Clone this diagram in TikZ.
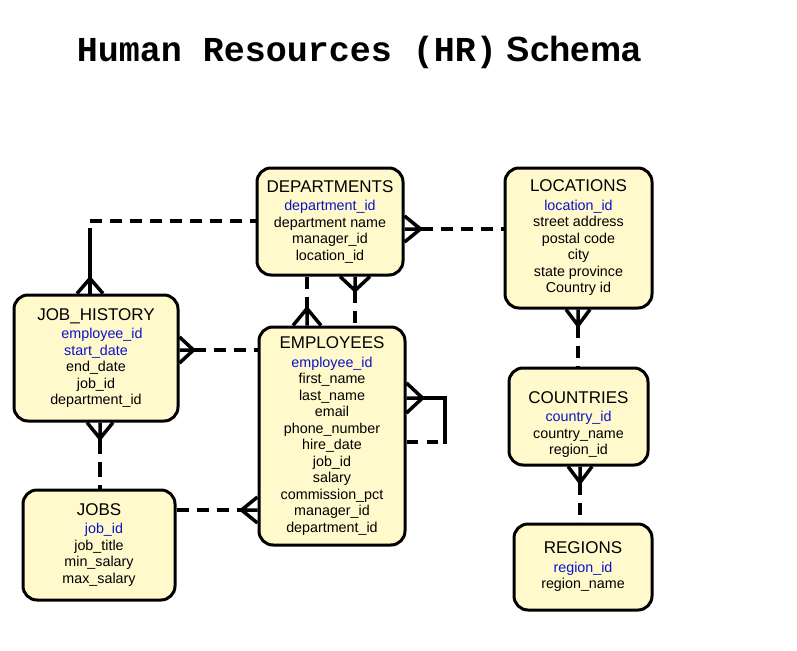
\documentclass[tikz,border=0pt]{standalone}
\usepackage{fontspec}
\setmainfont{Liberation Sans}
\newfontfamily\courierfont{Liberation Mono}
\usetikzlibrary{calc}

\definecolor{boxfill}{RGB}{255,249,204}
\definecolor{keyblue}{RGB}{10,20,200}

\tikzset{
  table/.style={draw, line width=3pt, rounded corners=14pt, fill=boxfill,
    align=center, inner sep=0pt, font=\fontsize{14.3}{16.5}\selectfont},
  rel/.style={line width=3.5pt},
  optrel/.style={rel, dash pattern=on 12pt off 8pt},
}

\newcommand{\pk}[1]{\textcolor{keyblue}{#1}}
\newcommand{\tname}[1]{{\fontsize{17}{19}\selectfont #1}\\[2pt]}
% crow's foot: end point, apex offset, half spread
\newcommand{\crowfoot}[3]{\draw[rel] ($(#1)+(#3)$) -- ($(#1)+(#2)$) -- ($(#1)-(#3)$) (#1) -- ($(#1)+(#2)$);}

\begin{document}
\begin{tikzpicture}[x=1pt, y=-1pt]
  \useasboundingbox (0,0) rectangle (797,650);

  \node[font=\fontsize{35}{37}\selectfont] (title) at (359,52)
    {{\courierfont\bfseries Human Resources (HR)} \textbf{Schema}};

  % tables
  \node[table, minimum width=146pt, minimum height=107pt] (dept) at (330,221.5)
    {\tname{DEPARTMENTS}\pk{department\_id}\\department name\\manager\_id\\location\_id};
  \node[table, minimum width=147pt, minimum height=140pt] (loc) at (578.5,238)
    {\tname{LOCATIONS}\pk{location\_id}\\street address\\postal code\\city\\state province\\Country id};
  \node[table, minimum width=164pt, minimum height=126pt] (jh) at (96,358)
    {\tname{JOB\_HISTORY}\hspace*{12pt}\pk{employee\_id}\\\pk{start\_date}\\end\_date\\job\_id\\department\_id};
  \node[table, minimum width=146pt, minimum height=218pt] (emp) at (332,436)
    {\tname{EMPLOYEES}\pk{employee\_id}\\first\_name\\last\_name\\email\\phone\_number\\hire\_date\\job\_id\\salary\\commission\_pct\\manager\_id\\department\_id};
  \node[table, minimum width=152pt, minimum height=110pt] (jobs) at (99,545)
    {\tname{JOBS}\hspace*{10pt}\pk{job\_id}\\job\_title\\min\_salary\\max\_salary};
  \node[table, minimum width=139pt, minimum height=97pt] (ctry) at (578.5,416.5)
    {\tname{\rule{0pt}{28pt}COUNTRIES}\pk{country\_id}\\country\_name\\region\_id};
  \node[table, minimum width=138pt, minimum height=86pt] (reg) at (583,567)
    {\tname{REGIONS}\pk{region\_id}\\region\_name};

  % connector ends
  \coordinate (dl1) at (dept.east |- 0,229);
  \coordinate (dl2) at (loc.west |- 0,229);
  \coordinate (dj1) at (dept.west |- 0,221);
  \coordinate (dj2) at (jh.north -| 90,0);
  \coordinate (de1) at (dept.south -| 307,0);
  \coordinate (de2) at (emp.north -| 307,0);
  \coordinate (dm1) at (dept.south -| 355,0);
  \coordinate (dm2) at (emp.north -| 355,0);
  \coordinate (je1) at (jh.east |- 0,350);
  \coordinate (je2) at (emp.west |- 0,350);
  \coordinate (jj1) at (jh.south -| 100,0);
  \coordinate (jj2) at (jobs.north -| 100,0);
  \coordinate (be1) at (jobs.east |- 0,510);
  \coordinate (be2) at (emp.west |- 0,510);
  \coordinate (ee1) at (emp.east |- 0,398);
  \coordinate (ee2) at (emp.east |- 0,442);
  \coordinate (lc1) at (loc.south -| 578,0);
  \coordinate (lc2) at (ctry.north -| 578,0);
  \coordinate (cr1) at (ctry.south -| 580,0);
  \coordinate (cr2) at (reg.north -| 580,0);

  % relations
  \crowfoot{dl1}{16,0}{0,13}
  \draw[optrel] ($(dl1)+(16,0)$) -- (dl2);

  \crowfoot{dj2}{0,-15}{13,0}
  \draw[rel] (dj2) -- (90,228);
  \draw[optrel] (90,221) -- (dj1);

  \crowfoot{de2}{0,-17}{14,0}
  \draw[optrel] (de1) -- ($(de2)+(0,-17)$);

  \crowfoot{dm1}{0,14}{15,0}
  \draw[optrel] ($(dm1)+(0,14)$) -- (dm2);

  \crowfoot{je1}{14,0}{0,13}
  \draw[optrel] ($(je1)+(14,0)$) -- (je2);

  \crowfoot{jj1}{0,16}{13,0}
  \draw[rel, dash pattern=on 15pt off 8pt] ($(jj1)+(0,16)$) -- (jj2);

  \crowfoot{be2}{-16,0}{0,13}
  \draw[optrel] (be1) -- ($(be2)+(-16,0)$);

  \crowfoot{ee1}{16,0}{0,15}
  \draw[rel] ($(ee1)+(16,0)$) -- (445,398) -- (445,444);
  \draw[rel, dash pattern=on 11pt off 9pt] (ee2) -- (445,442);

  \crowfoot{lc1}{0,16}{12,0}
  \draw[optrel] ($(lc1)+(0,16)$) -- (lc2);

  \crowfoot{cr1}{0,16}{12,0}
  \draw[optrel] ($(cr1)+(0,16)$) -- (cr2);
\end{tikzpicture}
\end{document}
